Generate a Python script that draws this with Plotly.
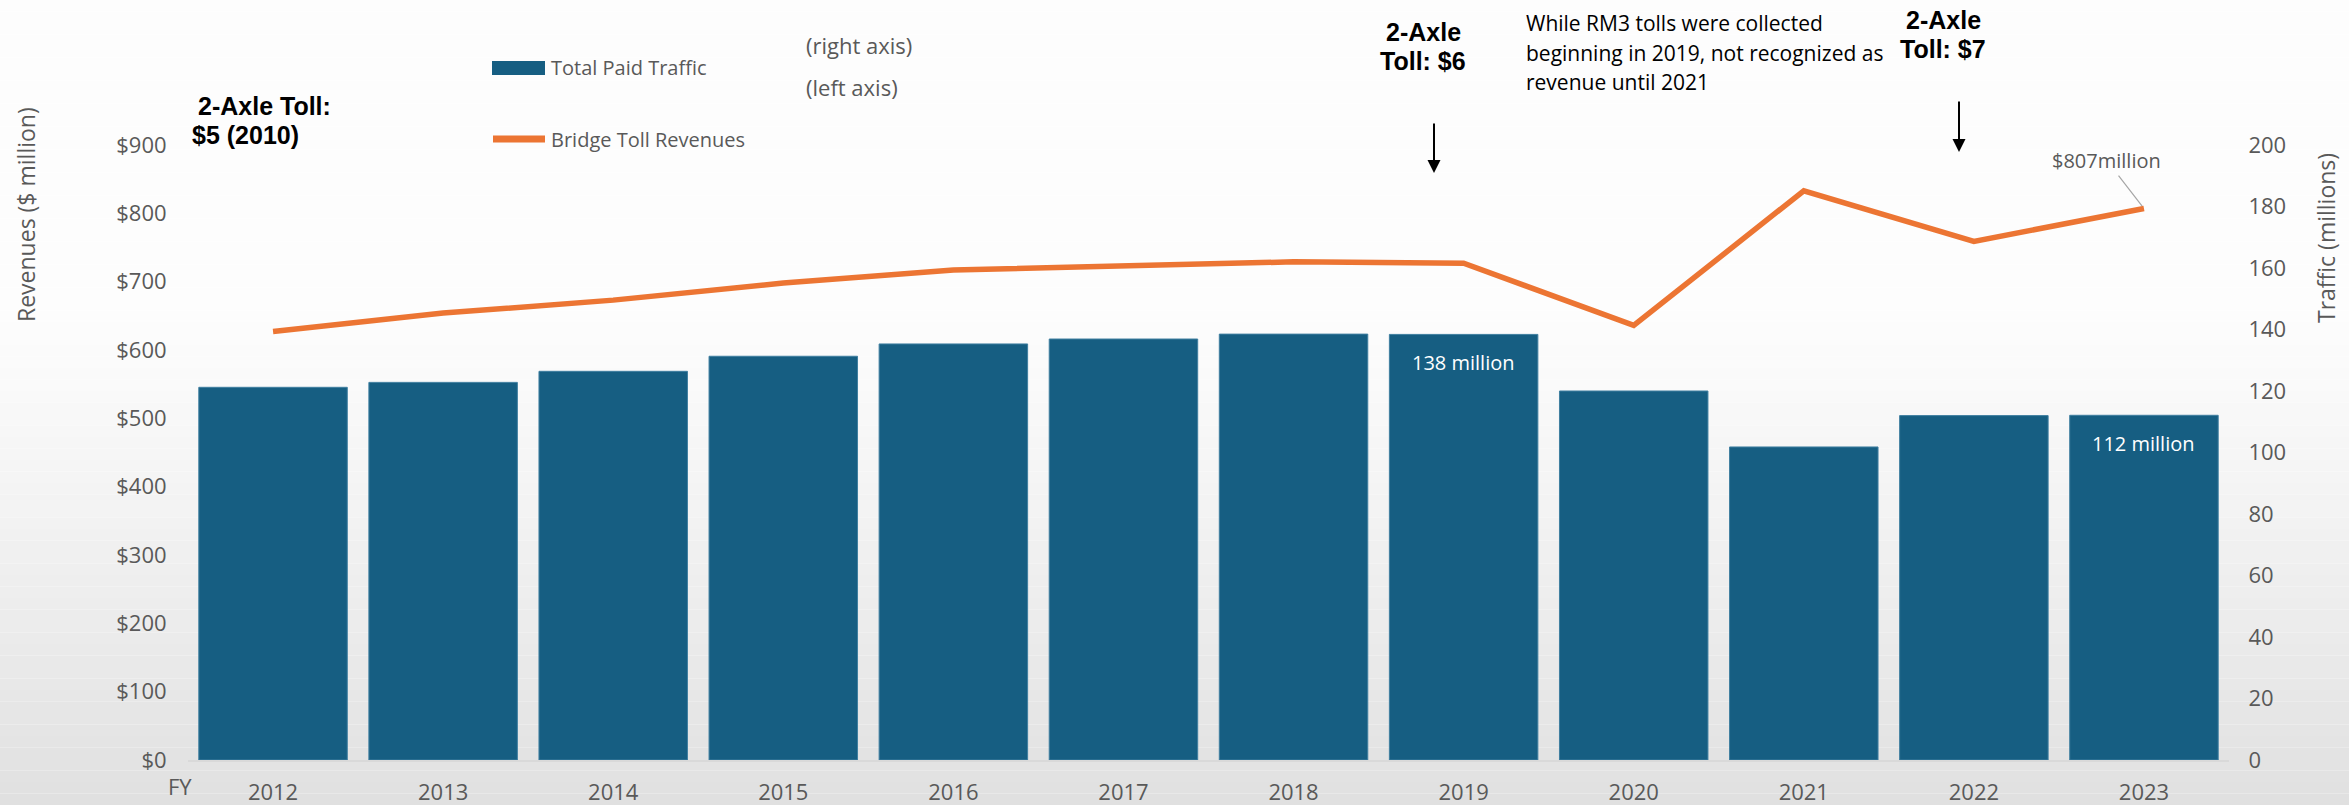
import plotly.graph_objects as go

# ---------------- data ----------------
years = ["2012", "2013", "2014", "2015", "2016", "2017", "2018", "2019", "2020", "2021", "2022", "2023"]
traffic_millions = [121.2, 122.8, 126.4, 131.3, 135.3, 136.9, 138.5, 138.4, 120.0, 101.8, 112.0, 112.1]
revenue_millions = [627, 654, 673, 698, 717, 723, 729, 727, 636, 833, 759, 807]
traffic_labels = ["", "", "", "", "", "", "", "138 million", "", "", "", "112 million"]
left_ticks = [0, 100, 200, 300, 400, 500, 600, 700, 800, 900]
left_tick_text = ["$0", "$100", "$200", "$300", "$400", "$500", "$600", "$700", "$800", "$900"]
right_ticks = [0, 20, 40, 60, 80, 100, 120, 140, 160, 180, 200]

# ---------------- layout geometry ----------------
W, H = 2349, 805
ML, MR, MT, MB = 188, 120, 145, 45
PW, PH = W - ML - MR, H - MT - MB

def px(x):
    return (x - ML) / PW

def py(y):
    return (H - MB - y) / PH

BAR = "#165E82"
ORANGE = "#EC7533"
GREY = "#595959"
FONT = "Open Sans"
BOLD = "Liberation Sans, Arial, sans-serif"

fig = go.Figure()

fig.add_trace(go.Bar(
    x=years, y=traffic_millions, name="Total Paid Traffic", yaxis="y2",
    marker=dict(color=BAR, line=dict(color="#3f7fa0", width=1)),
    showlegend=False,
))
fig.add_trace(go.Scatter(
    x=years, y=revenue_millions, name="Bridge Toll Revenues", yaxis="y",
    mode="lines", line=dict(color=ORANGE, width=5.5),
    showlegend=False,
))

# ---------------- background gradient ----------------
shapes = []
N = 70
for i in range(N):
    y0 = H * i / N
    y1 = H * (i + 1) / N
    f = (y0 + y1) / 2 / H
    if f < 0.38:
        lvl = 253
    else:
        t = (f - 0.38) / 0.62
        lvl = 253 - (253 - 224) * t ** 1.15
    lvl = int(round(lvl))
    shapes.append(dict(type="rect", xref="paper", yref="paper", layer="below",
                       x0=px(0), x1=px(W), y0=py(y1), y1=py(y0),
                       fillcolor=f"rgb({lvl},{lvl},{lvl})", line=dict(width=0)))

# legend swatches
shapes.append(dict(type="rect", xref="paper", yref="paper",
                   x0=px(492), x1=px(545), y0=py(75), y1=py(61),
                   fillcolor=BAR, line=dict(width=0)))
shapes.append(dict(type="line", xref="paper", yref="paper",
                   x0=px(493), x1=px(545), y0=py(139), y1=py(139),
                   line=dict(color=ORANGE, width=7)))

annotations = []

def txt(text, x, y, size=20, color=GREY, xanchor="left", align="left", family=FONT, yanchor="middle"):
    annotations.append(dict(text=text, x=px(x), y=py(y), xref="paper", yref="paper",
                            showarrow=False, xanchor=xanchor, yanchor=yanchor, align=align,
                            font=dict(family=family, size=size, color=color)))

# legend texts
txt("Total Paid Traffic", 549, 68)
txt("Bridge Toll Revenues", 549, 139)
txt("(right axis)", 804, 45, size=22)
txt("(left axis)", 804, 87, size=22)

# toll call-outs
txt("<b>2-Axle Toll:</b>", 196, 106, size=25, color="black", family=BOLD)
txt("<b>$5 (2010)</b>", 190, 135, size=25, color="black", family=BOLD)
txt("<b>2-Axle</b>", 1423, 32, size=25, color="black", xanchor="center", family=BOLD)
txt("<b>Toll: $6</b>", 1423, 61, size=25, color="black", xanchor="center", family=BOLD)
txt("<b>2-Axle</b>", 1943, 20, size=25, color="black", xanchor="center", family=BOLD)
txt("<b>Toll: $7</b>", 1943, 49, size=25, color="black", xanchor="center", family=BOLD)
# RM3 note
txt("While RM3 tolls were collected", 1524, 23, size=21, color="black")
txt("beginning in 2019, not recognized as", 1524, 53, size=21, color="black")
txt("revenue until 2021", 1524, 82, size=21, color="black")

# arrows
for (ax_x, tip_y, tail_y) in [(1434, 173, 122), (1959, 152, 100)]:
    annotations.append(dict(text="", x=px(ax_x), y=py(tip_y), xref="paper", yref="paper",
                            ax=0, ay=-(tip_y - tail_y), axref="pixel", ayref="pixel",
                            showarrow=True, arrowhead=2, arrowsize=1.3, arrowwidth=2,
                            arrowcolor="black"))

# axis titles and FY
annotations.append(dict(text="Revenues ($ million)", x=px(26), y=py(215), xref="paper", yref="paper",
                        showarrow=False, textangle=-90, xanchor="center", yanchor="middle",
                        font=dict(family=FONT, size=23, color=GREY)))
annotations.append(dict(text="Traffic (millions)", x=px(2326), y=py(238), xref="paper", yref="paper",
                        showarrow=False, textangle=-90, xanchor="center", yanchor="middle",
                        font=dict(family=FONT, size=23, color=GREY)))
txt("FY", 180, 786, size=22, xanchor="center")

# bar value labels (inside top of bars) - positioned by category index
for idx, (val, lab) in enumerate(zip(traffic_millions, traffic_labels)):
    if lab:
        annotations.append(dict(text=lab, x=idx, y=val, xref="x", yref="y2", yshift=-28,
                                showarrow=False, xanchor="center", yanchor="middle",
                                font=dict(family=FONT, size=20, color="white")))

# last revenue value label with leader line
last = len(revenue_millions) - 1
annotations.append(dict(text=f"${revenue_millions[last]}million", x=last, y=revenue_millions[last],
                        xref="x", yref="y", ax=-37, ay=-48, showarrow=True, arrowhead=0,
                        arrowwidth=1.2, arrowcolor="#a6a6a6", standoff=3,
                        font=dict(family=FONT, size=20, color=GREY)))

fig.update_layout(
    width=W, height=H,
    margin=dict(l=ML, r=MR, t=MT, b=MB, pad=0, autoexpand=False),
    paper_bgcolor="white", plot_bgcolor="rgba(0,0,0,0)",
    bargap=0.127,
    showlegend=False,
    shapes=shapes, annotations=annotations,
    font=dict(family=FONT, size=20, color=GREY),
    xaxis=dict(type="category", showgrid=False, showline=True, linecolor="#d9d9d9", linewidth=2,
               ticks="outside", ticklen=12, tickcolor="rgba(0,0,0,0)", automargin=False,
               tickfont=dict(size=22, color=GREY), range=[-0.5, 11.5]),
    yaxis=dict(range=[0, 900], tickvals=left_ticks, ticktext=left_tick_text, showgrid=False,
               zeroline=False, showline=False, ticks="outside", ticklen=16, automargin=False,
               tickcolor="rgba(0,0,0,0)", tickfont=dict(size=22, color=GREY)),
    yaxis2=dict(range=[0, 200], tickvals=right_ticks, overlaying="y", side="right", showgrid=False,
                zeroline=False, showline=False, ticks="outside", ticklen=14, automargin=False,
                tickcolor="rgba(0,0,0,0)", tickfont=dict(size=22, color=GREY)),
)

fig.write_html("out.html", config={"displayModeBar": False},
               post_script="document.body.style.margin='0px';")
